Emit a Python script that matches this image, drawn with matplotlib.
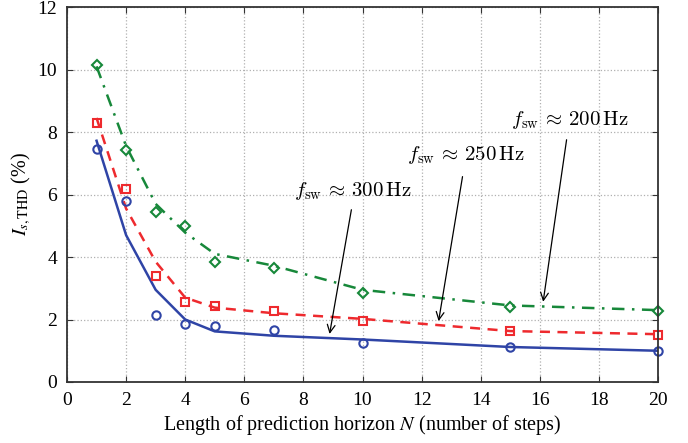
import matplotlib
matplotlib.use('Agg')
import matplotlib.pyplot as plt

plt.rcParams['font.family'] = ['Liberation Serif', 'DejaVu Serif']
plt.rcParams['mathtext.fontset'] = 'stix'

# horizon lengths
N = [1, 2, 3, 4, 5, 7, 10, 15, 20]

# measured THD points (%)
thd_300 = [7.45, 5.8, 2.15, 1.86, 1.8, 1.66, 1.26, 1.13, 0.99]
thd_250 = [8.3, 6.18, 3.4, 2.55, 2.44, 2.27, 1.96, 1.62, 1.5]
thd_200 = [10.15, 7.42, 5.44, 5.0, 3.85, 3.66, 2.86, 2.4, 2.28]

# fitted curves
fit_300 = [7.72, 4.7, 2.95, 2.0, 1.62, 1.48, 1.36, 1.12, 1.0]
fit_250 = [8.45, 5.55, 3.85, 2.7, 2.38, 2.2, 2.02, 1.63, 1.53]
fit_200 = [10.1, 7.55, 5.7, 4.78, 4.1, 3.72, 2.95, 2.45, 2.3]

blue = '#2f44a6'
red = '#ee2a2e'
green = '#17883a'

fig = plt.figure(figsize=(6.88, 4.43), dpi=100)
ax = fig.add_axes([67/688, 1-382/443, 591/688, 375/443])

ax.plot(N, fit_300, '-', color=blue, linewidth=1.8)
ax.plot(N, fit_250, '--', color=red, linewidth=1.8, dashes=(4, 3))
ax.plot(N, fit_200, '-.', color=green, linewidth=1.8, dashes=(5, 3, 1, 3))

ms = 6
ax.plot(N, thd_300, 'o', color=blue, mfc='none', mew=1.5, ms=ms, clip_on=False)
ax.plot(N, thd_250, 's', color=red, mfc='none', mew=1.5, ms=ms, clip_on=False)
ax.plot(N, thd_200, 'D', color=green, mfc='none', mew=1.5, ms=ms - 1, clip_on=False)

ax.set_xlim(0, 20)
ax.set_ylim(0, 12)
ax.set_xticks(range(0, 21, 2))
ax.set_yticks(range(0, 13, 2))
ax.grid(True, linestyle=':', color='#b0b0b0', linewidth=0.9)
ax.tick_params(direction='in', top=True, right=True, labelsize=14, length=4,
               color='#333333', pad=7)
for sp in ax.spines.values():
    sp.set_color('#333333')
    sp.set_linewidth(1.3)

ax.set_xlabel(r'Length of prediction horizon $N$ (number of steps)', fontsize=14.5, labelpad=3)
ax.set_ylabel(r'$I_{s,\mathrm{THD}}$ (%)', fontsize=14.5, labelpad=3)

labels = [r'$f_{\mathrm{sw}}\,\approx\,300\,\mathrm{Hz}$',
          r'$f_{\mathrm{sw}}\,\approx\,250\,\mathrm{Hz}$',
          r'$f_{\mathrm{sw}}\,\approx\,200\,\mathrm{Hz}$']
label_xy = [(11.65, 6.1), (15.5, 7.25), (19.0, 8.4)]
arrow_tail = [(9.64, 5.6), (13.4, 6.66), (16.92, 7.84)]
arrow_head = [(8.87, 1.45), (12.56, 1.86), (16.1, 2.48)]

for lab, lxy, tail, head in zip(labels, label_xy, arrow_tail, arrow_head):
    ax.text(lxy[0], lxy[1], lab, ha='right', va='center', fontsize=15,
            math_fontfamily='cm')
    ax.annotate('', xy=head, xytext=tail,
                arrowprops=dict(arrowstyle='->', color='black', lw=0.9,
                                mutation_scale=14))

fig.savefig('out.png', dpi=100)
